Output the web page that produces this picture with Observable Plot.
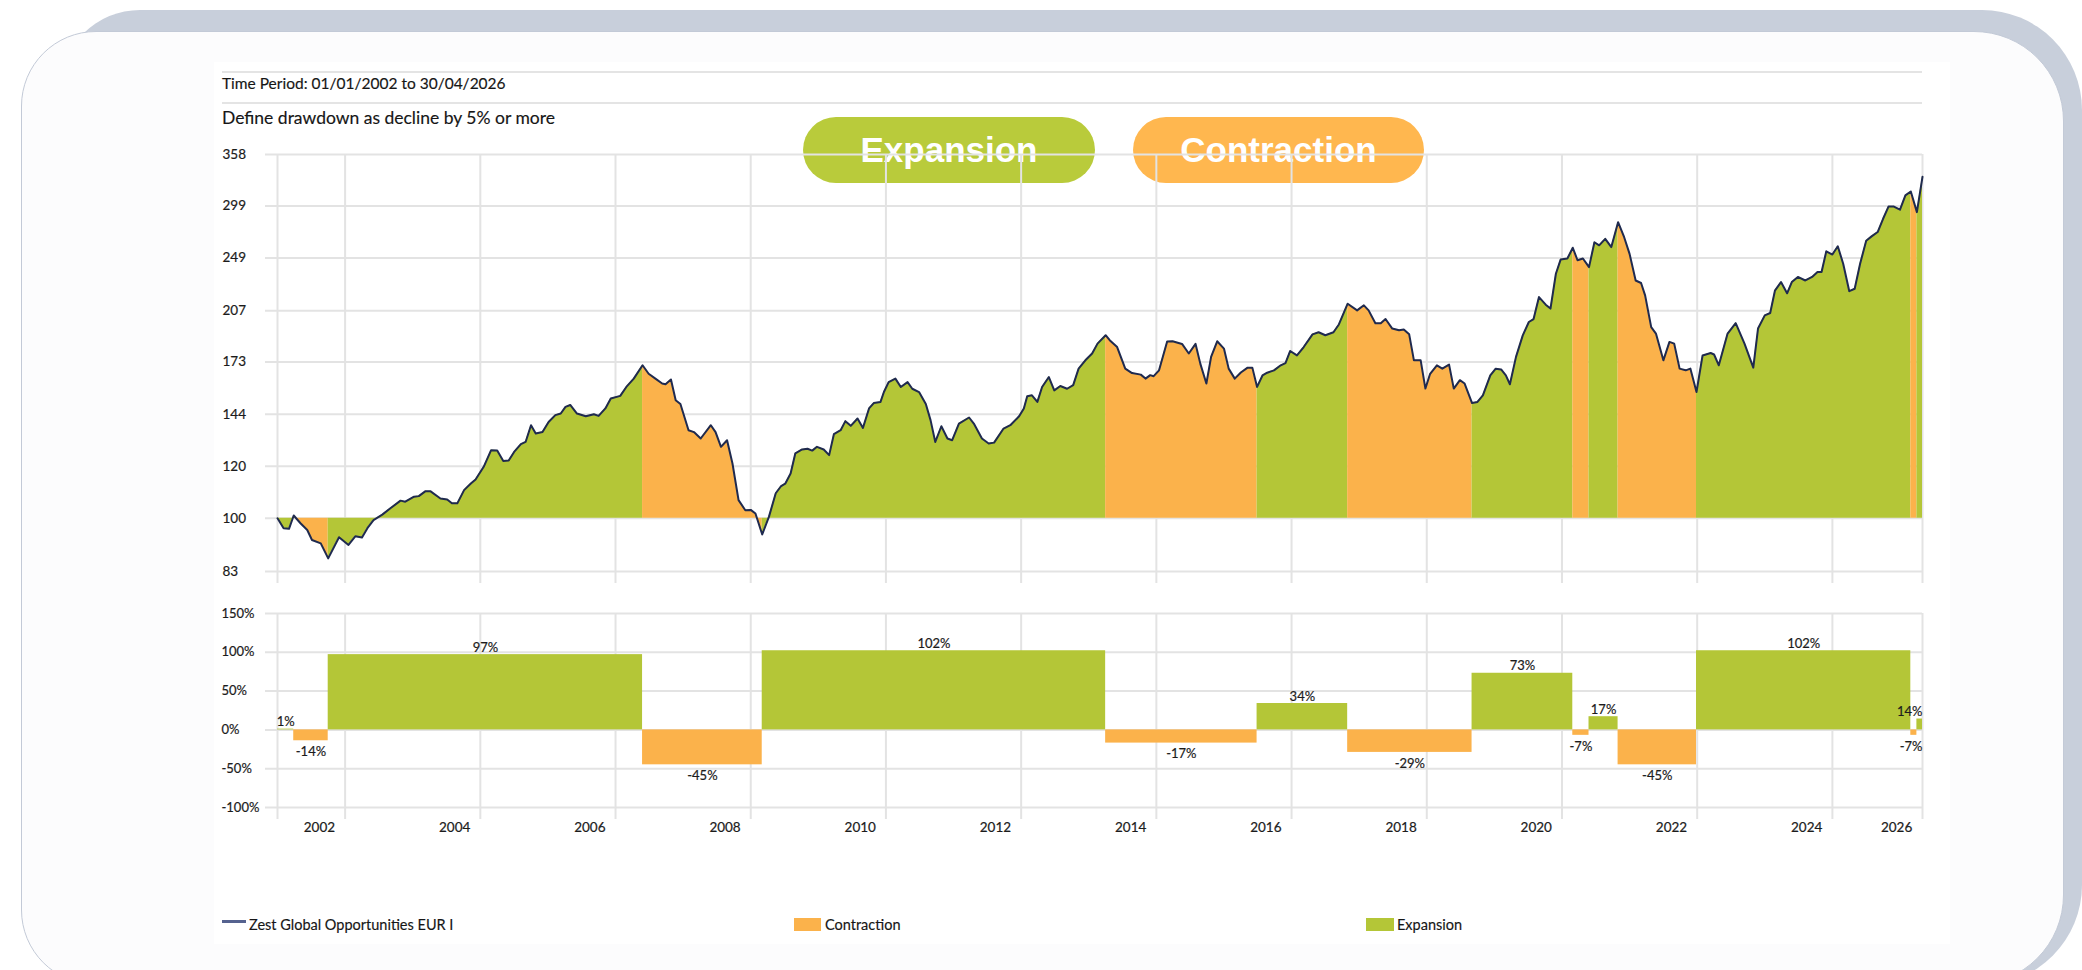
<!DOCTYPE html>
<html>
<head>
<meta charset="utf-8">
<script src="https://cdn.jsdelivr.net/npm/d3@7"></script>
<script src="https://cdn.jsdelivr.net/npm/@observablehq/plot@0.6"></script>
<style>
  html, body { margin:0; padding:0; background:#ffffff; width:2082px; height:970px; overflow:hidden; }
  body { position:relative; font-family: Lato, "Open Sans", "DejaVu Sans", sans-serif; color:#161616; }
  #bgcard { position:absolute; left:60px; top:10px; width:2022px; height:975px; background:#c8cfdb; border-radius:80px 100px 100px 80px; }
  #card { position:absolute; left:21px; top:31px; width:2043px; height:954px; background:#fcfcfd; border:1.5px solid #c3cad7; box-sizing:border-box; border-radius:75px 90px 90px 75px; }
  #chartbg { position:absolute; left:214px; top:62px; width:1736px; height:882px; background:#ffffff; }
  .hr { position:absolute; left:222px; width:1700px; height:2px; background:#e4e4e4; }
  .txt { position:absolute; white-space:nowrap; -webkit-text-stroke:0.15px #161616; }
  .badge { position:absolute; top:117px; height:66px; border-radius:33px; color:#ffffff; font-family:"Liberation Sans", Arial, sans-serif; font-weight:bold; font-size:35px; line-height:66px; text-align:center; }
  .plot { position:absolute; left:215px; }
  .sw { position:absolute; }
</style>
</head>
<body>
<div id="bgcard"></div>
<div id="card"></div>
<div id="chartbg"></div>
<div class="hr" style="top:71px"></div>
<div class="txt" style="left:222px; top:74px; font-size:15.5px; line-height:18px;">Time Period: 01/01/2002 to 30/04/2026</div>
<div class="hr" style="top:102px"></div>
<div class="txt" style="left:222px; top:107px; font-size:17.5px; line-height:22px;">Define drawdown as decline by 5% or more</div>
<div class="badge" id="badgeExp" style="left:803px; width:292px;"></div>
<div class="badge" id="badgeCon" style="left:1133px; width:291px;"></div>
<div id="topPlot" class="plot" style="top:140px"></div>
<div id="botPlot" class="plot" style="top:600px"></div>
<div id="legend"></div>
<script>
// ---------------- DATA ----------------
// Fund index level (rebased to 100 on 01/01/2002), dates as decimal years
const navDates = [
  2002.00, 2002.09, 2002.17, 2002.24, 2002.34, 2002.44, 2002.51, 2002.64, 2002.75, 2002.91,
  2003.05, 2003.15, 2003.25, 2003.33, 2003.42, 2003.55, 2003.67, 2003.82, 2003.89, 2004.02,
  2004.09, 2004.19, 2004.26, 2004.41, 2004.51, 2004.58, 2004.66, 2004.76, 2004.86, 2004.93,
  2005.05, 2005.16, 2005.25, 2005.34, 2005.42, 2005.50, 2005.60, 2005.67, 2005.75, 2005.82,
  2005.92, 2006.01, 2006.11, 2006.19, 2006.26, 2006.33, 2006.43, 2006.56, 2006.68, 2006.75,
  2006.85, 2006.93, 2007.07, 2007.16, 2007.27, 2007.40, 2007.49, 2007.59, 2007.69, 2007.74,
  2007.82, 2007.89, 2007.96, 2008.08, 2008.16, 2008.26, 2008.41, 2008.48, 2008.56, 2008.65,
  2008.73, 2008.82, 2008.92, 2009.00, 2009.07, 2009.17, 2009.27, 2009.37, 2009.45, 2009.51,
  2009.59, 2009.66, 2009.76, 2009.84, 2009.91, 2009.98, 2010.08, 2010.16, 2010.23, 2010.33,
  2010.40, 2010.48, 2010.58, 2010.66, 2010.75, 2010.82, 2010.92, 2010.97, 2011.04, 2011.14,
  2011.22, 2011.32, 2011.39, 2011.49, 2011.59, 2011.66, 2011.73, 2011.82, 2011.91, 2011.98,
  2012.08, 2012.23, 2012.30, 2012.42, 2012.52, 2012.60, 2012.74, 2012.84, 2012.97, 2013.04,
  2013.09, 2013.16, 2013.24, 2013.31, 2013.41, 2013.49, 2013.58, 2013.68, 2013.77, 2013.85,
  2013.95, 2014.05, 2014.13, 2014.25, 2014.31, 2014.42, 2014.54, 2014.64, 2014.77, 2014.84,
  2014.91, 2014.96, 2015.04, 2015.16, 2015.24, 2015.38, 2015.48, 2015.58, 2015.65, 2015.74,
  2015.81, 2015.90, 2016.00, 2016.07, 2016.16, 2016.25, 2016.35, 2016.42, 2016.49, 2016.57,
  2016.64, 2016.74, 2016.84, 2016.91, 2016.98, 2017.08, 2017.18, 2017.31, 2017.40, 2017.50,
  2017.62, 2017.70, 2017.83, 2017.97, 2018.07, 2018.14, 2018.24, 2018.32, 2018.39, 2018.49,
  2018.59, 2018.66, 2018.74, 2018.81, 2018.91, 2018.98, 2019.05, 2019.15, 2019.23, 2019.33,
  2019.40, 2019.49, 2019.56, 2019.67, 2019.75, 2019.83, 2019.94, 2020.02, 2020.10, 2020.17,
  2020.23, 2020.32, 2020.42, 2020.51, 2020.58, 2020.66, 2020.76, 2020.83, 2020.91, 2020.98,
  2021.08, 2021.16, 2021.23, 2021.31, 2021.40, 2021.48, 2021.55, 2021.64, 2021.73, 2021.83,
  2021.92, 2022.00, 2022.09, 2022.17, 2022.23, 2022.32, 2022.39, 2022.50, 2022.59, 2022.66,
  2022.74, 2022.83, 2022.90, 2022.99, 2023.08, 2023.20, 2023.25, 2023.32, 2023.45, 2023.57,
  2023.70, 2023.83, 2023.90, 2024.00, 2024.08, 2024.15, 2024.24, 2024.33, 2024.40, 2024.49,
  2024.60, 2024.70, 2024.78, 2024.84, 2024.91, 2025.00, 2025.08, 2025.16, 2025.25, 2025.33,
  2025.41, 2025.50, 2025.58, 2025.67, 2025.75, 2025.83, 2025.91, 2026.00, 2026.08, 2026.16,
  2026.25, 2026.333
];
const navValues = [
  100, 96.6, 96.4, 101, 98.3, 96, 92.7, 91.6, 86.9, 93.6,
  91.1, 93.9, 93.5, 96.6, 99.4, 101.3, 103.6, 106.4, 106, 107.9,
  108.1, 110, 110, 107.2, 106.8, 105.4, 105.4, 110.4, 113, 114.6,
  119.8, 127, 126.8, 122.3, 122.5, 126.2, 129.7, 130.7, 138.6, 134.6,
  135.3, 140.2, 143.6, 144.4, 147.8, 148.8, 144.4, 143, 144, 143.2,
  147, 152.2, 153.6, 158.5, 163.2, 171, 166, 163.2, 160.4, 160,
  162.7, 151.3, 149.3, 136.2, 135.3, 132.3, 138.6, 135.3, 128.5, 131.5,
  121.2, 106.6, 102.9, 103, 101.7, 94.5, 100.6, 109.2, 112, 112.9,
  117, 125.6, 127.3, 127.6, 126.8, 128.5, 127.3, 124.8, 134.3, 136.2,
  140.6, 138.3, 141.9, 137.3, 147, 149.8, 150.4, 155.7, 161.2, 163.2,
  158.5, 161.2, 157.5, 155.7, 149.3, 141.1, 130.7, 138.1, 132.3, 131.5,
  139.4, 142.4, 139.4, 132.3, 130, 130.4, 137, 138.6, 143, 147,
  153.4, 153.9, 150.4, 158.5, 164.1, 156.6, 159, 157.5, 159.5, 169,
  174, 178.2, 184.5, 190, 186.7, 182.3, 169, 166.4, 165.5, 163.2,
  165.2, 164.6, 168, 185.9, 186, 184.3, 178.2, 184.3, 172, 160.4,
  176.1, 186, 181.3, 169, 163.2, 166.7, 169.6, 169.6, 158.5, 165,
  166.6, 168, 171, 172.3, 179.8, 177, 182.3, 190.6, 192, 190,
  192, 197.3, 212.2, 207.3, 211, 207.3, 198.2, 198.2, 201.1, 194.5,
  193.3, 193.8, 190.6, 174, 174, 157.6, 166, 171, 169, 171.4,
  157.6, 162.3, 160.4, 149.8, 150.4, 153.9, 165.1, 169, 168.5, 165.1,
  160, 176.1, 189.9, 199, 201.1, 217.2, 211.5, 208.6, 235.7, 247.7,
  248.6, 258.2, 247.1, 248.6, 241.2, 263.2, 260.4, 266.4, 258.8, 282.4,
  267.9, 252.7, 230.2, 228.2, 218.5, 195.5, 191.1, 174, 185.6, 184.5,
  169, 168, 169, 155.7, 177, 178.5, 177.6, 171, 191.1, 198.2,
  184.5, 169.6, 194.5, 203.7, 205.4, 222.1, 228.9, 220.1, 228.9, 233.1,
  230.2, 233.1, 237.1, 237.1, 255, 252.1, 259.5, 244.1, 221.7, 223.6,
  244.1, 264.6, 268.7, 272.8, 285.8, 298.3, 298.3, 295, 310.2, 314.5,
  292.5, 331.1
];
// Expansion / contraction periods (boundaries as decimal years) and their returns (%)
const periodBounds = [2002.00, 2002.24, 2002.75, 2007.40, 2009.17, 2014.25, 2016.49, 2017.83,
  2019.67, 2021.16, 2021.40, 2021.83, 2022.99, 2026.16, 2026.25, 2026.333];
const periodReturns = [1, -14, 97, -45, 102, -17, 34, -29, 73, -7, 17, -45, 102, -7, 14];
// Axis ticks / labels
const priceTicks = [83, 100, 120, 144, 173, 207, 249, 299, 358];
const returnTicks = [-100, -50, 0, 50, 100, 150];
const gridYears = [2002, 2003, 2005, 2007, 2009, 2011, 2013, 2015, 2017, 2019, 2021, 2023, 2025, 2026.333];
const yearLabels = ["2002", "2004", "2006", "2008", "2010", "2012", "2014", "2016", "2018", "2020", "2022", "2024", "2026"];
const yearLabelPos = [2002.62, 2004.62, 2006.62, 2008.62, 2010.62, 2012.62, 2014.62, 2016.62, 2018.62, 2020.62, 2022.62, 2024.62, 2025.95];
const seriesName = "Zest Global Opportunities EUR I";
const regimeNames = ["Expansion", "Contraction"];
const regimeColors = ["#b4c637", "#fbb24b"];
const badgeColors = ["#b9cb3b", "#ffb74f"];
const lineColor = "#1f2a4f";

// ---------------- BUILD ----------------
const xDomain = [periodBounds[0], periodBounds[periodBounds.length - 1]];
const nav = navDates.map((t, i) => ({t, v: navValues[i]}));
const periods = periodReturns.map((r, i) => ({
  id: i, start: periodBounds[i], end: periodBounds[i + 1], ret: r,
  type: r >= 0 ? "Expansion" : "Contraction"
}));
const areaRows = periods.flatMap(p =>
  nav.filter(d => d.t >= p.start - 1e-6 && d.t <= p.end + 1e-6).map(d => ({...d, id: p.id, type: p.type})));

const fontFamily = 'Lato, "Open Sans", "DejaVu Sans", sans-serif';
const grid = "#e3e3e3";
const ink = "#1c1c1c";
const colorScale = {domain: regimeNames, range: regimeColors};

const topChart = Plot.plot({
  width: 1730, height: 450,
  marginLeft: 62, marginRight: 23, marginTop: 14, marginBottom: 19,
  x: {domain: xDomain, axis: null},
  y: {type: "log", domain: [priceTicks[0], priceTicks[priceTicks.length - 1]], axis: null},
  color: colorScale,
  style: {background: "transparent", fontFamily, fontSize: "13px", color: ink, overflow: "visible"},
  marks: [
    Plot.ruleY(priceTicks, {y: d => d, stroke: grid, strokeWidth: 2, insetLeft: -12}),
    Plot.ruleX(gridYears, {x: d => d, stroke: grid, strokeWidth: 2, insetBottom: -12}),
    Plot.areaY(areaRows, {x: "t", y1: 100, y2: "v", z: "id", fill: "type", curve: "linear"}),
    Plot.lineY(nav, {x: "t", y: "v", stroke: lineColor, strokeWidth: 2, strokeLinejoin: "round"}),
    Plot.text(priceTicks, {y: d => d, text: d => String(d), frameAnchor: "left", textAnchor: "start", dx: -55, fill: ink, fontSize: 13.5, stroke: ink, strokeWidth: 0.2})
  ]
});
document.getElementById("topPlot").appendChild(topChart);

// labels whose bar centre is very close to the right edge are right-aligned to the frame edge
const nearEnd = p => (p.start + p.end) / 2 > xDomain[1] - 0.2;
const labelStyle = {fill: ink, fontSize: 13, stroke: ink, strokeWidth: 0.2};
const botChart = Plot.plot({
  width: 1730, height: 240,
  marginLeft: 62, marginRight: 23, marginTop: 13, marginBottom: 33,
  x: {domain: xDomain, axis: null},
  y: {domain: [returnTicks[0], returnTicks[returnTicks.length - 1]], axis: null},
  color: colorScale,
  style: {background: "transparent", fontFamily, fontSize: "13px", color: ink, overflow: "visible"},
  marks: [
    Plot.ruleY(returnTicks, {y: d => d, stroke: grid, strokeWidth: 2, insetLeft: -12}),
    Plot.ruleX(gridYears, {x: d => d, stroke: grid, strokeWidth: 2, insetBottom: -12}),
    Plot.rect(periods, {x1: "start", x2: "end", y1: 0, y2: "ret", fill: "type"}),
    Plot.text(periods.filter(p => p.ret >= 0 && !nearEnd(p)), {x: p => (p.start + p.end) / 2, y: "ret", text: p => p.ret + "%", lineAnchor: "bottom", dy: -3, ...labelStyle}),
    Plot.text(periods.filter(p => p.ret < 0 && !nearEnd(p)), {x: p => (p.start + p.end) / 2, y: "ret", text: p => p.ret + "%", lineAnchor: "top", dy: 6, ...labelStyle}),
    Plot.text(periods.filter(p => p.ret >= 0 && nearEnd(p)), {x: () => xDomain[1], y: "ret", text: p => p.ret + "%", textAnchor: "end", lineAnchor: "bottom", dy: -3, ...labelStyle}),
    Plot.text(periods.filter(p => p.ret < 0 && nearEnd(p)), {x: () => xDomain[1], y: "ret", text: p => p.ret + "%", textAnchor: "end", lineAnchor: "top", dy: 6, ...labelStyle}),
    Plot.text(returnTicks, {y: d => d, text: d => d + "%", frameAnchor: "left", textAnchor: "start", dx: -56, ...labelStyle}),
    Plot.text(yearLabels, {x: (d, i) => yearLabelPos[i], text: d => d, frameAnchor: "bottom", lineAnchor: "middle", dy: 20, ...labelStyle, fontSize: 13.5})
  ]
});
document.getElementById("botPlot").appendChild(botChart);

// Badges
const be = document.getElementById("badgeExp");
be.textContent = regimeNames[0]; be.style.background = badgeColors[0];
const bc = document.getElementById("badgeCon");
bc.textContent = regimeNames[1]; bc.style.background = badgeColors[1];

// Legend
const legend = document.getElementById("legend");
legend.innerHTML = `
  <div class="sw" style="left:222px; top:920px; width:24px; height:3px; background:#55628f;"></div>
  <div class="txt" style="left:249px; top:916px; font-size:14.5px; line-height:18px;">${seriesName}</div>
  <div class="sw" style="left:794px; top:918px; width:27px; height:13px; background:${regimeColors[1]};"></div>
  <div class="txt" style="left:825px; top:916px; font-size:14.5px; line-height:18px;">${regimeNames[1]}</div>
  <div class="sw" style="left:1366px; top:918px; width:28px; height:13px; background:${regimeColors[0]};"></div>
  <div class="txt" style="left:1397px; top:916px; font-size:14.5px; line-height:18px;">${regimeNames[0]}</div>
`;
</script>
</body>
</html>
